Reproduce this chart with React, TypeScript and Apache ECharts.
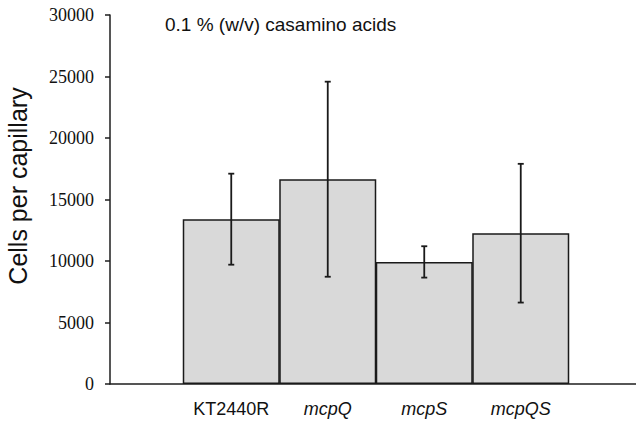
import React, { useEffect, useRef } from "react";
import * as echarts from "echarts";

const categories = ["KT2440R", "mcpQ", "mcpS", "mcpQS"];
const italicCats = [false, true, true, true];
const meanValues = [13400, 16650, 9920, 12250];
const errHigh = [17100, 24580, 11200, 17900];
const errLow = [9700, 8720, 8650, 6620];
const yTicks = [0, 5000, 10000, 15000, 20000, 25000, 30000];
const titleText = "0.1 % (w/v) casamino acids";
const yAxisTitle = "Cells per capillary";

export default function App() {
  const ref = useRef<HTMLDivElement>(null);
  useEffect(() => {
    if (!ref.current) return;
    const chart = echarts.init(ref.current, null, { renderer: "svg" });
    const axisColor = "#1e1e1e";
    const yMin = yTicks[0];
    const yMax = yTicks[yTicks.length - 1];
    chart.setOption({
      animation: false,
      backgroundColor: "#ffffff",
      grid: [
        { left: 110, right: 0, top: 15, bottom: 37 },
        { left: 183, width: 386, top: 15, bottom: 37 },
      ],
      xAxis: [
        {
          gridIndex: 0,
          type: "value",
          min: 0,
          max: 1,
          axisLine: { show: true, lineStyle: { color: axisColor, width: 1.5 } },
          axisTick: { show: false },
          axisLabel: { show: false },
          splitLine: { show: false },
        },
        {
          gridIndex: 1,
          type: "category",
          data: categories.map((c, i) => ({
            value: c,
            textStyle: { fontStyle: italicCats[i] ? "italic" : "normal" },
          })),
          axisLine: { show: false },
          axisTick: { show: false },
          axisLabel: {
            interval: 0,
            margin: 16,
            fontFamily: "Liberation Sans, Arial, sans-serif",
            fontSize: 18,
            color: "#111",
          },
        },
      ],
      yAxis: [
        {
          gridIndex: 0,
          type: "value",
          min: yMin,
          max: yMax,
          interval: 5000,
          axisLine: { show: true, lineStyle: { color: axisColor, width: 1.5 } },
          axisTick: { show: true, inside: false, length: 5, lineStyle: { color: axisColor, width: 1.5 } },
          axisLabel: {
            margin: 16,
            fontFamily: "Liberation Serif, Times New Roman, serif",
            fontSize: 18,
            color: "#111",
            formatter: (v: number) => String(v),
          },
          splitLine: { show: false },
        },
        {
          gridIndex: 1,
          type: "value",
          min: yMin,
          max: yMax,
          interval: 5000,
          show: false,
        },
      ],
      graphic: [
        {
          type: "text",
          x: 165,
          y: 24,
          style: {
            text: titleText,
            fontFamily: "Liberation Sans, Arial, sans-serif",
            fontSize: 19,
            fill: "#111",
            textVerticalAlign: "middle",
            textAlign: "left",
          },
        },
        {
          type: "text",
          x: 18,
          y: 186,
          rotation: Math.PI / 2,
          style: {
            text: yAxisTitle,
            fontFamily: "Liberation Sans, Arial, sans-serif",
            fontSize: 25,
            fill: "#111",
            textVerticalAlign: "middle",
            textAlign: "center",
          },
        },
      ],
      series: [
        {
          type: "bar",
          xAxisIndex: 1,
          yAxisIndex: 1,
          data: meanValues,
          barWidth: 97,
          itemStyle: { color: "#d9d9d9", borderColor: "#1a1a1a", borderWidth: 1.5 },
          z: 2,
        },
        {
          type: "custom",
          xAxisIndex: 1,
          yAxisIndex: 1,
          data: categories.map((_, i) => [i, errLow[i], errHigh[i]]),
          z: 5,
          renderItem: (params: any, api: any) => {
            const i = api.value(0);
            const lo = api.coord([i, api.value(1)]);
            const hi = api.coord([i, api.value(2)]);
            const cap = 3;
            const style = { stroke: "#1a1a1a", lineWidth: 1.8 };
            return {
              type: "group",
              children: [
                { type: "line", shape: { x1: hi[0], y1: hi[1], x2: lo[0], y2: lo[1] }, style },
                { type: "line", shape: { x1: hi[0] - cap, y1: hi[1], x2: hi[0] + cap, y2: hi[1] }, style },
                { type: "line", shape: { x1: lo[0] - cap, y1: lo[1], x2: lo[0] + cap, y2: lo[1] }, style },
              ],
            };
          },
        },
      ],
    });
    return () => chart.dispose();
  }, []);
  return (
    <div
      ref={ref}
      style={{ position: "fixed", left: 0, top: 0, width: 636, height: 421 }}
    />
  );
}
